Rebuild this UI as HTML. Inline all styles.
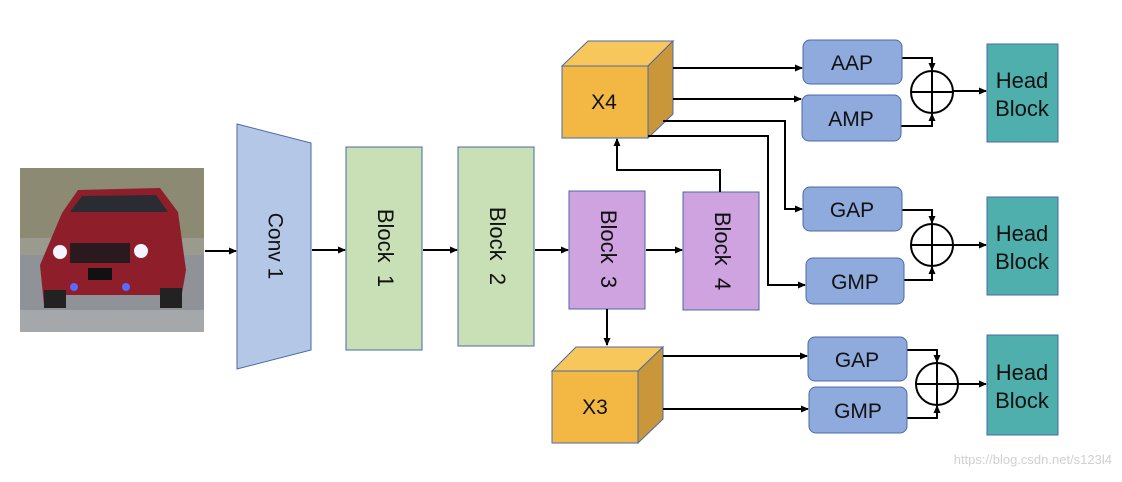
<!DOCTYPE html>
<html><head><meta charset="utf-8"><style>
body{margin:0;background:#fff;}
svg text{font-family:"Liberation Sans",sans-serif;fill:#111;}
</style></head><body>
<svg width="1122" height="477" viewBox="0 0 1122 477" xmlns="http://www.w3.org/2000/svg">
<defs>
<marker id="a" markerWidth="8" markerHeight="8" refX="7" refY="4" orient="auto" markerUnits="userSpaceOnUse"><path d="M0,0.5 L8,4 L0,7.5 z" fill="#000"/></marker>
</defs>
<!-- car image -->
<rect x="20" y="168" width="184" height="164" fill="#9a9a8e"/>
<rect x="20" y="168" width="184" height="70" fill="#8c8a72"/>
<rect x="20" y="255" width="184" height="77" fill="#8f9296"/>
<rect x="20" y="310" width="184" height="22" fill="#a5a8ab"/>
<path d="M62,213 L78,190 L160,188 L178,212 L186,270 L180,305 L162,305 L160,295 L66,295 L64,305 L44,305 L40,265 Z" fill="#8e1f2a"/>
<path d="M70,212 L82,196 L156,195 L168,212 Z" fill="#2b2b33"/>
<rect x="70" y="243" width="60" height="20" fill="#2a1a1e"/>
<circle cx="60" cy="252" r="7" fill="#f4f4ff"/><circle cx="141" cy="251" r="7" fill="#f4f4ff"/>
<rect x="88" y="268" width="24" height="12" fill="#111"/>
<circle cx="74" cy="287" r="4" fill="#5a6aff"/><circle cx="126" cy="287" r="4" fill="#5a6aff"/>
<rect x="44" y="290" width="22" height="18" fill="#222"/><rect x="160" y="288" width="22" height="20" fill="#222"/>
<!-- conv1 -->
<polygon points="237,124 311,143 311,350 237,369" fill="#b4c7e7" stroke="#4a6aa5" stroke-width="1"/>
<text transform="translate(274,246) rotate(90)" text-anchor="middle" dominant-baseline="middle" font-size="21">Conv 1</text>
<!-- blocks -->
<rect x="346" y="147" width="76" height="203" fill="#c9dfb6" stroke="#4a6aa5"/>
<text transform="translate(384,248) rotate(90)" text-anchor="middle" dominant-baseline="middle" font-size="22" xml:space="preserve">Block  1</text>
<rect x="458" y="147" width="76" height="199" fill="#c9dfb6" stroke="#4a6aa5"/>
<text transform="translate(496,246) rotate(90)" text-anchor="middle" dominant-baseline="middle" font-size="22" xml:space="preserve">Block  2</text>
<rect x="569" y="191" width="76" height="118" fill="#cfa3e0" stroke="#4a6aa5"/>
<text transform="translate(607,249) rotate(90)" text-anchor="middle" dominant-baseline="middle" font-size="22" xml:space="preserve">Block  3</text>
<rect x="683" y="192" width="76" height="118" fill="#cfa3e0" stroke="#4a6aa5"/>
<text transform="translate(721,251) rotate(90)" text-anchor="middle" dominant-baseline="middle" font-size="22" xml:space="preserve">Block  4</text>
<!-- main arrows -->
<g stroke="#000" stroke-width="2" fill="none">
<line x1="205" y1="251" x2="236" y2="251" marker-end="url(#a)"/>
<line x1="312" y1="250" x2="345" y2="250" marker-end="url(#a)"/>
<line x1="423" y1="250" x2="457" y2="250" marker-end="url(#a)"/>
<line x1="535" y1="250" x2="568" y2="250" marker-end="url(#a)"/>
<line x1="646" y1="250" x2="682" y2="250" marker-end="url(#a)"/>
<polyline points="720,192 720,170 617,170 617,139" marker-end="url(#a)"/>
<line x1="607" y1="309" x2="607" y2="345" marker-end="url(#a)"/>
</g>
<!-- X4 cube -->
<polygon points="562,66 588,41 673,41 648,66" fill="#f8c75c" stroke="#4a6aa5"/>
<polygon points="648,66 673,41 673,114 648,138" fill="#c9973a" stroke="#4a6aa5"/>
<rect x="562" y="66" width="86" height="72" fill="#f3b843" stroke="#4a6aa5"/>
<text x="604" y="109" text-anchor="middle" font-size="21">X4</text>
<!-- X3 cube -->
<polygon points="552,371 576,347 663,347 638,371" fill="#f8c75c" stroke="#4a6aa5"/>
<polygon points="638,371 663,347 663,419 638,443" fill="#c9973a" stroke="#4a6aa5"/>
<rect x="552" y="371" width="86" height="72" fill="#f3b843" stroke="#4a6aa5"/>
<text x="595" y="414" text-anchor="middle" font-size="21">X3</text>
<!-- connectors right -->
<g stroke="#000" stroke-width="2" fill="none">
<line x1="673" y1="68" x2="802" y2="68" marker-end="url(#a)"/>
<line x1="673" y1="99" x2="801" y2="99" marker-end="url(#a)"/>
<polyline points="663,121 785,121 785,209 802,209" marker-end="url(#a)"/>
<polyline points="648,136 768,136 768,285 805,285" marker-end="url(#a)"/>
<line x1="663" y1="356" x2="807" y2="356" marker-end="url(#a)"/>
<line x1="663" y1="409" x2="808" y2="409" marker-end="url(#a)"/>
<polyline points="902,58 932,58 932,70" marker-end="url(#a)"/>
<polyline points="901,126 932,126 932,114" marker-end="url(#a)"/>
<line x1="953" y1="91" x2="986" y2="91" marker-end="url(#a)"/>
<polyline points="902,210 932,210 932,223" marker-end="url(#a)"/>
<polyline points="904,280 932,280 932,267" marker-end="url(#a)"/>
<line x1="953" y1="245" x2="986" y2="245" marker-end="url(#a)"/>
<polyline points="907,350 937,350 937,362" marker-end="url(#a)"/>
<polyline points="907,418 937,418 937,406" marker-end="url(#a)"/>
<line x1="958" y1="384" x2="986" y2="384" marker-end="url(#a)"/>
</g>
<!-- pooling boxes -->
<g fill="#8faadc" stroke="#4a6aa5" stroke-width="1">
<rect x="803" y="40" width="99" height="44" rx="7"/>
<rect x="802" y="95" width="99" height="46" rx="7"/>
<rect x="803" y="187" width="99" height="44" rx="7"/>
<rect x="806" y="258" width="98" height="46" rx="7"/>
<rect x="808" y="337" width="99" height="44" rx="7"/>
<rect x="809" y="387" width="98" height="46" rx="7"/>
</g>
<g font-size="21" text-anchor="middle">
<text x="852" y="70">AAP</text>
<text x="851" y="126">AMP</text>
<text x="852" y="217">GAP</text>
<text x="855" y="289">GMP</text>
<text x="857" y="367">GAP</text>
<text x="858" y="418">GMP</text>
</g>
<!-- plus circles -->
<g stroke="#000" stroke-width="2" fill="#fff">
<circle cx="932" cy="92" r="21"/><path d="M911,92 H953 M932,71 V113"/>
<circle cx="932" cy="245" r="21"/><path d="M911,245 H953 M932,224 V266"/>
<circle cx="937" cy="384" r="21"/><path d="M916,384 H958 M937,363 V405"/>
</g>
<!-- head blocks -->
<g fill="#4fafad" stroke="#4a6aa5">
<rect x="987" y="44" width="71" height="98"/>
<rect x="987" y="197" width="71" height="98"/>
<rect x="987" y="335" width="71" height="100"/>
</g>
<g font-size="22" text-anchor="middle">
<text x="1022" y="88">Head</text><text x="1022" y="116">Block</text>
<text x="1022" y="241">Head</text><text x="1022" y="269">Block</text>
<text x="1022" y="380">Head</text><text x="1022" y="408">Block</text>
</g>
<text x="1112" y="464" text-anchor="end" font-size="13" style="fill:#d0d0d0">https://blog.csdn.net/s123l4</text>
</svg>
</body></html>
